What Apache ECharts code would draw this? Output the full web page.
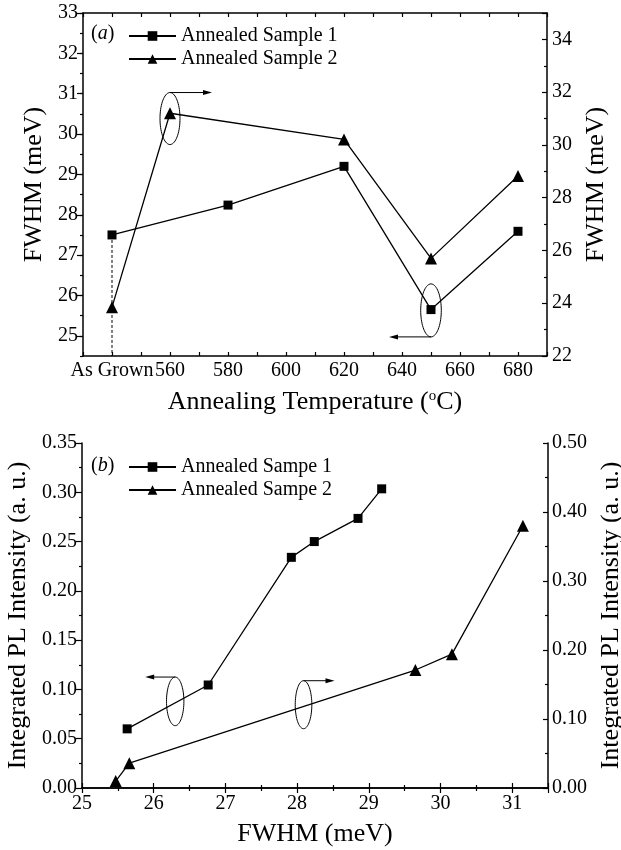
<!DOCTYPE html>
<html><head><meta charset="utf-8">
<script src="https://cdn.jsdelivr.net/npm/echarts@6/dist/echarts.min.js"></script>
<style>html,body{margin:0;padding:0;background:#fff}#c{width:621px;height:850px}</style>
</head><body><div id="c"></div>
<script>
// ---------- data: panel (a) ----------
const asGrownPos = 540; // x position used for the "As Grown" sample
const temp1 = [540, 580, 620, 650, 680];
const fwhm1 = [27.5, 28.24, 29.2, 25.65, 27.59];          // left axis
const temp2 = [540, 560, 620, 650, 680];
const fwhm2 = [23.85, 31.2, 30.21, 25.7, 28.82];          // right axis
const tempTickLabels = {540: 'As Grown', 560: '560', 580: '580', 600: '600', 620: '620', 640: '640', 660: '660', 680: '680'};
const leftTicksA = [25, 26, 27, 28, 29, 30, 31, 32, 33];

// ---------- data: panel (b) ----------
const plFwhm1 = [25.63, 26.76, 27.92, 28.24, 28.85, 29.18];
const plInt1  = [0.06, 0.1045, 0.234, 0.25, 0.2735, 0.3035]; // left axis
const plFwhm2 = [25.47, 25.66, 29.65, 30.16, 31.15];
const plInt2  = [0.01, 0.036, 0.171, 0.194, 0.38];         // right axis

const F = 'Liberation Serif';
const BLACK = '#000';
const zip = (a, b) => a.map((v, i) => [v, b[i]]);

const axisLine = {show: true, lineStyle: {color: BLACK, width: 1.5}};
const lbl = (extra) => Object.assign({color: BLACK, fontFamily: F, fontSize: 20}, extra);
const nameStyle = {color: BLACK, fontFamily: F, fontSize: 26};

const chart = echarts.init(document.getElementById('c'), null, {renderer: 'canvas'});

const lineSeries = (name, data, xi, yi, symbol, size) => ({
  name, type: 'line', data, xAxisIndex: xi, yAxisIndex: yi,
  symbol, symbolSize: size, showSymbol: true,
  lineStyle: {color: BLACK, width: 1.3}, itemStyle: {color: BLACK},
  emphasis: {disabled: true}, animation: false, z: 3
});

const legendBase = {orient: 'vertical', left: 128, padding: 0, itemWidth: 47, itemHeight: 12, itemGap: 3,
  textStyle: {color: BLACK, fontFamily: F, fontSize: 20}, selectedMode: false};

const option = {
  backgroundColor: '#fff',
  animation: false,
  grid: [
    {left: 83, top: 13, width: 464, height: 343, outerBoundsMode: 'none', containLabel: false},
    {left: 82, top: 443, width: 466, height: 345, outerBoundsMode: 'none', containLabel: false}
  ],
  legend: [
    Object.assign({data: ['Annealed Sample 1', 'Annealed Sample 2'], top: 26}, legendBase),
    Object.assign({data: ['Annealed Sampe 1', 'Annealed Sampe 2'], top: 457}, legendBase)
  ],
  xAxis: [
    {type: 'value', gridIndex: 0, position: 'bottom', min: 530, max: 690, interval: 10,
     axisLine, splitLine: {show: false},
     axisTick: {inside: true, length: 4, lineStyle: {color: BLACK, width: 1.2}},
     axisLabel: lbl({margin: 5, showMinLabel: true, formatter: v => tempTickLabels[v] || ''}),
     name: 'Annealing Temperature ({sup|o}C)', nameLocation: 'middle', nameGap: 33,
     nameTextStyle: Object.assign({}, nameStyle, {rich: {sup: {fontFamily: F, fontSize: 15, color: BLACK, verticalAlign: 'top', padding: [0, 0, 10, 0]}}})},
    {type: 'value', gridIndex: 0, position: 'top', min: 530, max: 690, interval: 10,
     axisLine, splitLine: {show: false}, axisLabel: {show: false},
     axisTick: {inside: true, length: 4, lineStyle: {color: BLACK, width: 1.2}}},
    {type: 'value', gridIndex: 1, position: 'bottom', min: 25, max: 31.5, interval: 1,
     axisLine, splitLine: {show: false},
     axisTick: {inside: true, length: 5, lineStyle: {color: BLACK, width: 1.2}},
     minorTick: {show: true, splitNumber: 2, length: 3, lineStyle: {color: BLACK, width: 1.2}},
     axisLabel: lbl({margin: 6, showMaxLabel: false}),
     name: 'FWHM (meV)', nameLocation: 'middle', nameGap: 33, nameTextStyle: nameStyle},
    {type: 'value', gridIndex: 1, position: 'top', min: 25, max: 31.5, interval: 1,
     axisLine, splitLine: {show: false}, axisLabel: {show: false},
     axisTick: {inside: true, length: 5, lineStyle: {color: BLACK, width: 1.2}},
     minorTick: {show: true, splitNumber: 2, length: 3, lineStyle: {color: BLACK, width: 1.2}}}
  ],
  yAxis: [
    {type: 'value', gridIndex: 0, position: 'left', min: 24.5, max: 33,
     axisLine, splitLine: {show: false},
     axisTick: {inside: false, length: 6, customValues: leftTicksA, lineStyle: {color: BLACK, width: 1.2}},
     axisLabel: lbl({margin: 5, customValues: leftTicksA}),
     name: 'FWHM (meV)', nameLocation: 'middle', nameRotate: 90, nameGap: 36, nameTextStyle: nameStyle},
    {type: 'value', gridIndex: 0, position: 'right', min: 22, max: 35, interval: 2,
     axisLine, splitLine: {show: false},
     axisTick: {inside: true, length: 5, lineStyle: {color: BLACK, width: 1.2}},
     minorTick: {show: true, splitNumber: 2, length: 3, lineStyle: {color: BLACK, width: 1.2}},
     axisLabel: lbl({margin: 5, showMaxLabel: false}),
     name: 'FWHM (meV)', nameLocation: 'middle', nameRotate: 90, nameGap: 33, nameTextStyle: nameStyle},
    {type: 'value', gridIndex: 0, position: 'left', min: 24.5, max: 33, interval: 0.5,
     axisLine: {show: false}, splitLine: {show: false}, axisLabel: {show: false},
     axisTick: {inside: false, length: 3, lineStyle: {color: BLACK, width: 1.2}}},
    {type: 'value', gridIndex: 1, position: 'left', min: 0, max: 0.35, interval: 0.05,
     axisLine, splitLine: {show: false},
     axisTick: {inside: false, length: 6, lineStyle: {color: BLACK, width: 1.2}},
     minorTick: {show: true, splitNumber: 2, length: 3, lineStyle: {color: BLACK, width: 1.2}},
     axisLabel: lbl({margin: 5, formatter: v => v.toFixed(2)}),
     name: 'Integrated PL Intensity (a. u.)', nameLocation: 'middle', nameRotate: 90, nameGap: 49, nameTextStyle: nameStyle},
    {type: 'value', gridIndex: 1, position: 'right', min: 0, max: 0.5, interval: 0.1,
     axisLine, splitLine: {show: false},
     axisTick: {inside: true, length: 5, lineStyle: {color: BLACK, width: 1.2}},
     minorTick: {show: true, splitNumber: 2, length: 3, lineStyle: {color: BLACK, width: 1.2}},
     axisLabel: lbl({margin: 4, formatter: v => v.toFixed(2)}),
     name: 'Integrated PL Intensity (a. u.)', nameLocation: 'middle', nameRotate: 90, nameGap: 46, nameTextStyle: nameStyle}
  ],
  series: [
    {type: 'line', xAxisIndex: 0, yAxisIndex: 0, data: [[asGrownPos, fwhm1[0]], [asGrownPos, 24.5]],
     symbol: 'none', lineStyle: {color: BLACK, width: 1, type: [3, 2]}, silent: true, z: 2},
    lineSeries('Annealed Sample 1', zip(temp1, fwhm1), 0, 0, 'rect', 9),
    lineSeries('Annealed Sample 2', zip(temp2, fwhm2), 0, 1, 'triangle', 12),
    lineSeries('Annealed Sampe 1', zip(plFwhm1, plInt1), 2, 3, 'rect', 9),
    lineSeries('Annealed Sampe 2', zip(plFwhm2, plInt2), 2, 4, 'triangle', 12)
  ]
};
chart.setOption(option);

// ---------- annotations: panel labels, ellipses and arrows ----------
function px(xi, yi, x, y) {
  return [chart.convertToPixel({xAxisIndex: xi}, x), chart.convertToPixel({yAxisIndex: yi}, y)];
}
function ellipse(c, rx, ry) {
  const pts = [];
  for (let i = 0; i <= 72; i++) { const t = i / 72 * Math.PI * 2; pts.push([c[0] + rx * Math.cos(t), c[1] + ry * Math.sin(t)]); }
  return {type: 'polyline', shape: {points: pts}, style: {stroke: BLACK, lineWidth: 1, fill: null}, z: 10};
}
function arrow(x0, y, len, dir) {
  const x1 = x0 + dir * len;
  return [
    {type: 'line', shape: {x1: x0, y1: y, x2: x1 - dir * 6, y2: y}, style: {stroke: BLACK, lineWidth: 1}, z: 10},
    {type: 'polygon', shape: {points: [[x1, y], [x1 - dir * 9, y - 2.5], [x1 - dir * 9, y + 2.5]]}, style: {fill: BLACK}, z: 10}
  ];
}
const g = [];
// (a) ellipse around 560 triangle -> right axis
let c = px(0, 1, 560, 31.0); g.push(ellipse(c, 10, 26)); g.push(...arrow(c[0], c[1] - 26, 42, 1));
// (a) ellipse around 650 square -> left axis
c = px(0, 0, 650, 25.63); g.push(ellipse(c, 10.3, 26.5)); g.push(...arrow(c[0], c[1] + 26.5, 42, -1));
// (b) left ellipse -> left axis
c = px(2, 3, 26.3, 0.0879); g.push(ellipse(c, 8.7, 24.3)); g.push(...arrow(c[0], c[1] - 24.3, 30, -1));
// (b) right ellipse -> right axis
c = px(2, 3, 28.09, 0.0845); g.push(ellipse(c, 8.3, 24)); g.push(...arrow(c[0], c[1] - 24, 31, 1));
// panel letters
const letter = (t, x, y) => ({type: 'text', left: x, top: y, z: 10,
  style: {text: t, fill: BLACK, font: '20px "Liberation Serif"',
    rich: {i: {fontStyle: 'italic', fontFamily: F, fontSize: 20, fill: BLACK}}}});
g.push(letter('({i|a})', 91, 24));
g.push(letter('({i|b})', 91, 456));
chart.setOption({graphic: g});
</script></body></html>
